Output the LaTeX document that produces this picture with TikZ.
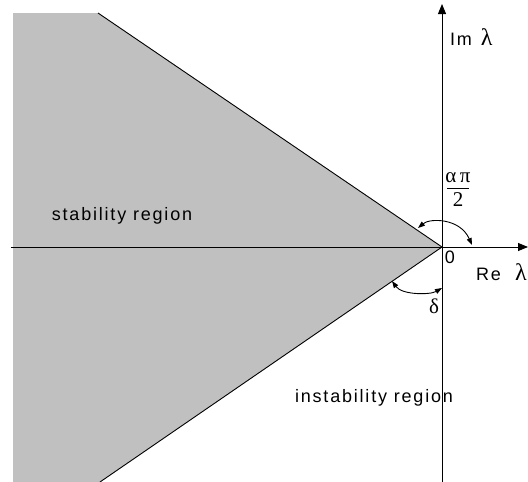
\documentclass[tikz,border=0pt]{standalone}
\usepackage{fontspec}
\setmainfont{Liberation Sans}
\newfontfamily\greekfont{Liberation Serif}
\newfontfamily\spacedfont[LetterSpace=10]{Liberation Sans}
\usetikzlibrary{arrows.meta}
\definecolor{regiongray}{RGB}{192,192,192}
\tikzset{
  axis/.style={line width=0.9pt, -{Triangle[length=10pt, width=8pt]}},
  anglearrow/.style={line width=0.9pt, {Triangle[length=7pt, width=5pt]}-{Triangle[length=7pt, width=5pt]}},
  regionlabel/.style={font=\spacedfont\fontsize{18}{20}\selectfont, inner sep=0pt},
  greeklabel/.style={font=\greekfont\fontsize{21}{24}\selectfont, inner sep=0pt}
}
\newcommand{\biglambda}{{\greekfont\fontsize{24}{26}\selectfont λ}}
\begin{document}
\begin{tikzpicture}[x=1pt, y=-1pt]
  \useasboundingbox (0,0) rectangle (528,482);
  \coordinate (O) at (442,247);
  \coordinate (top) at (98,13);
  \coordinate (bot) at (100,482);
  % stability sector
  \fill[regiongray] (13,13) -- (top) -- (O) -- (bot) -- (13,482) -- cycle;
  \draw[line width=0.9pt] (top) -- (O) -- (bot);
  % axes
  \coordinate (xl) at (11,247);
  \coordinate (xr) at (528,247);
  \coordinate (yb) at (442,482);
  \coordinate (yt) at (442,4);
  \draw[axis] (xl) -- (xr);
  \draw[axis] (yb) -- (yt);
  \node[regionlabel, anchor=west] (im) at (450,37) {Im\hspace{9pt}\biglambda};
  \node[regionlabel, anchor=west] (re) at (476,272) {Re\hspace{14pt}\biglambda};
  \node[font=\fontsize{18}{20}\selectfont, inner sep=0pt] (zero) at (450,257) {0};
  % angle alpha pi / 2
  \coordinate (a1) at (418,228);
  \coordinate (a2) at (472,245);
  \draw[anglearrow] (a1) .. controls (430,218) and (460,218) .. (a2);
  \node[greeklabel] (num) at (458,178) {α\,π};
  \node[greeklabel] (den) at (458,200) {2};
  \draw[line width=0.6pt] (447,188) -- (469,188);
  % angle delta
  \coordinate (d1) at (392,281);
  \coordinate (d2) at (442,288);
  \draw[anglearrow] (d1) .. controls (402,295) and (430,295) .. (d2);
  \node[greeklabel] (delta) at (434,306) {δ};
  % region labels
  \node[regionlabel] (stab) at (122,216) {stability region};
  \node[regionlabel] (instab) at (374,398) {instability region};
\end{tikzpicture}
\end{document}
